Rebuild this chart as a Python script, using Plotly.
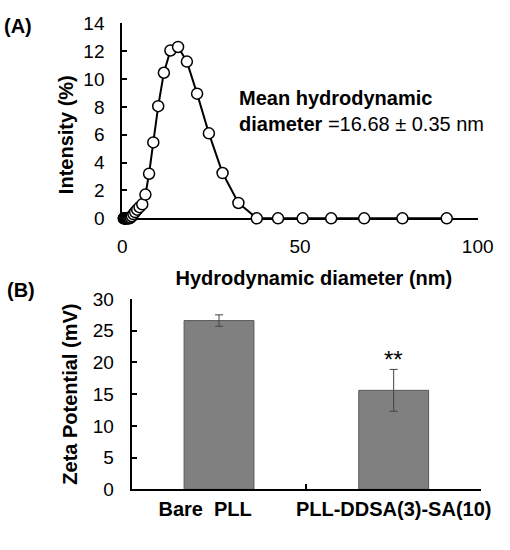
import plotly.graph_objects as go

# ---- Panel A: DLS intensity distribution ----
diameter_nm = [0.4, 0.4632, 0.5365, 0.6213, 0.7195, 0.8332, 0.9649, 1.117, 1.294, 1.499,
               1.736, 2.01, 2.328, 2.696, 3.122, 3.615, 4.187, 4.849, 5.615, 6.503,
               7.531, 8.721, 10.1, 11.7, 13.54, 15.69, 18.17, 21.04, 24.36, 28.21,
               32.67, 37.84, 43.82, 50.75, 58.77, 68.06, 78.82, 91.28]
intensity_pct = [0, 0, 0, 0, 0, 0, 0, 0, 0, 0,
                 0, 0, 0.05, 0.15, 0.3, 0.45, 0.62, 0.8, 1.0, 1.7,
                 3.2, 5.45, 8.05, 10.45, 12.05, 12.3, 11.25, 8.95, 6.1, 3.25,
                 1.1, 0, 0, 0, 0, 0, 0, 0]

# ---- Panel B: zeta potential ----
samples = ["Bare PLL", "PLL-DDSA(3)-SA(10)"]
sample_labels = ["Bare\u00a0\u00a0PLL" + "\u00a0" * 5, "PLL-DDSA(3)-SA(10)"]
zeta_mv = [26.6, 15.6]
zeta_err = [0.9, 3.3]

FONT = "Arial, 'Liberation Sans', sans-serif"
W, H = 510, 550
ZW = "\u200b"  # zero-width guard so padding spaces are kept

fig = go.Figure()

fig.add_trace(go.Scatter(
    x=diameter_nm, y=intensity_pct, mode="lines+markers",
    line=dict(color="black", width=2),
    marker=dict(size=11, color="white", line=dict(color="black", width=1.5)),
    cliponaxis=False, showlegend=False, xaxis="x", yaxis="y"))

fig.add_trace(go.Bar(
    x=samples, y=zeta_mv, width=0.4,
    marker=dict(color="#808080", line=dict(color="#5a5a5a", width=1)),
    error_y=dict(type="data", array=zeta_err, color="#444444", thickness=1, width=4),
    showlegend=False, xaxis="x2", yaxis="y2"))


def axis_style(ticks="inside", size=19, bold=False):
    f = dict(family=FONT, size=size, color="black")
    if bold:
        f["weight"] = "bold"
    return dict(showline=True, linecolor="black", linewidth=2, showgrid=False,
                zeroline=False, ticks=ticks, tickcolor="black", ticklen=5,
                tickwidth=1.5, tickfont=f, automargin=False, tickangle=0)


fig.update_layout(
    width=W, height=H, margin=dict(l=0, r=0, t=0, b=0, autoexpand=False),
    paper_bgcolor="white", plot_bgcolor="white",
    font=dict(family=FONT, color="black"),
    xaxis=dict(domain=[122.3 / W, 477.7 / W], range=[0, 100], tickvals=[0, 50, 100],
               anchor="y", layer="below traces",
               title=dict(text=ZW + "\u00a0" * 5 + "Hydrodynamic diameter (nm)",
                          font=dict(family=FONT, size=20, weight="bold"), standoff=15),
               ticklabelstandoff=10, **axis_style(ticks="")),
    yaxis=dict(domain=[(H - 218.3) / H, (H - 23.3) / H], range=[0, 14], dtick=2,
               anchor="x", layer="below traces",
               title=dict(text="Intensity (%)" + "\u00a0" * 5 + ZW,
                          font=dict(family=FONT, size=20, weight="bold"), standoff=4),
               ticklabelstandoff=12, **axis_style()),
    xaxis2=dict(domain=[131.7 / W, 481 / W], type="category", range=[-0.5, 1.5],
                anchor="y2", tickson="boundaries", tickmode="array",
                tickvals=samples, ticktext=sample_labels, ticklabelstandoff=1,
                **axis_style(size=20, bold=True)),
    yaxis2=dict(domain=[(H - 489.3) / H, (H - 299) / H], range=[0, 30], dtick=5,
                anchor="x2",
                title=dict(text="Zeta Potential (mV)",
                           font=dict(family=FONT, size=20, weight="bold"), standoff=10),
                ticklabelstandoff=12, **axis_style()),
)

fig.add_annotation(text="<b>(A)</b>", xref="paper", yref="paper",
                   x=18 / W, y=(H - 25.5) / H, xanchor="center", yanchor="middle",
                   showarrow=False, font=dict(family=FONT, size=20, color="black"))
fig.add_annotation(text="<b>(B)</b>", xref="paper", yref="paper",
                   x=21 / W, y=(H - 290) / H, xanchor="center", yanchor="middle",
                   showarrow=False, font=dict(family=FONT, size=20, color="black"))
fig.add_annotation(text="<b>Mean hydrodynamic</b><br><b>diameter</b> =16.68 \u00b1 0.35 nm",
                   xref="x", yref="y", x=32.4, y=7.72, xanchor="left", yanchor="middle",
                   align="left", showarrow=False,
                   font=dict(family=FONT, size=20, color="black"))
fig.add_annotation(text="**", xref="x2", yref="y2",
                   x=samples[1], y=20.4, xanchor="center", yanchor="middle",
                   showarrow=False, font=dict(family=FONT, size=24, color="black"))

fig.write_html("out.html")
